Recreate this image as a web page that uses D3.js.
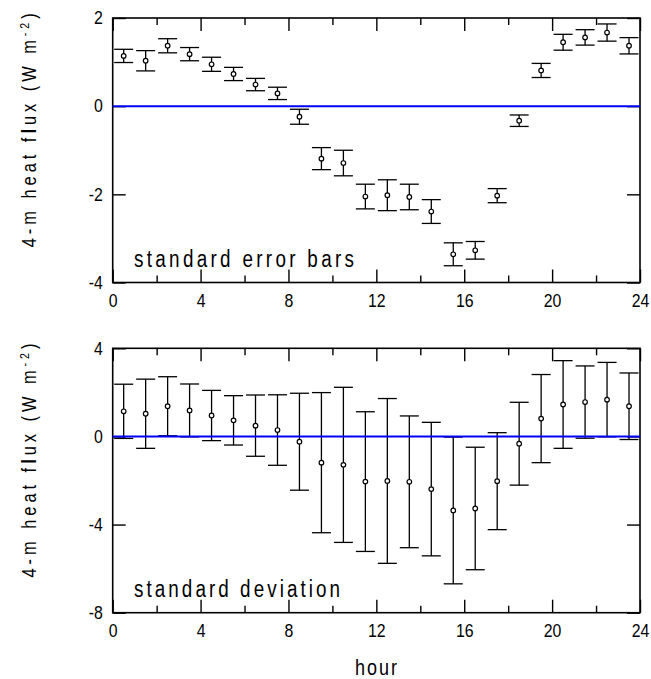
<!DOCTYPE html>
<html>
<head>
<meta charset="utf-8">
<script src="https://cdn.jsdelivr.net/npm/d3@7"></script>
<style>
  html, body { margin: 0; padding: 0; background: #fff; }
  svg text { font-family: "Liberation Sans", Arial, Helvetica, sans-serif; fill: #000; }
</style>
</head>
<body>
<svg id="chart" width="651" height="679"></svg>
<script>
// Hourly bins (centres of each hour)
const hours = [0.5, 1.5, 2.5, 3.5, 4.5, 5.5, 6.5, 7.5, 8.5, 9.5, 10.5, 11.5,
               12.5, 13.5, 14.5, 15.5, 16.5, 17.5, 18.5, 19.5, 20.5, 21.5, 22.5, 23.5];
// Mean 4-m heat flux per hour (W m-2)
const meanFlux = [1.14, 1.03, 1.37, 1.18, 0.95, 0.73, 0.49, 0.29, -0.24, -1.19, -1.29, -2.05,
                  -2.02, -2.06, -2.39, -3.36, -3.27, -2.03, -0.33, 0.81, 1.45, 1.56, 1.67, 1.37];
// Standard error of the hourly mean
const stdErr = [0.15, 0.23, 0.16, 0.15, 0.16, 0.15, 0.14, 0.14, 0.17, 0.25, 0.29, 0.28,
                0.35, 0.29, 0.27, 0.26, 0.20, 0.16, 0.13, 0.16, 0.18, 0.175, 0.195, 0.185];
// Standard deviation of the hourly values
const stdDev = [1.23, 1.57, 1.34, 1.20, 1.14, 1.12, 1.39, 1.60, 2.20, 3.18, 3.52, 3.17,
                3.74, 2.99, 3.03, 3.33, 2.78, 2.20, 1.88, 2.00, 1.99, 1.64, 1.69, 1.51];

const xMajorTicks = [0, 4, 8, 12, 16, 20, 24];
const xMinorTicks = [2, 6, 10, 14, 18, 22];
const topYTicks = [-4, -2, 0, 2];
const bottomYTicks = [-8, -4, 0, 4];

const panelLabels = ["standard error bars", "standard deviation"];
const xLabel = "hour";

const svg = d3.select("#chart");
const left = 112.7, right = 640;
const narrow = 0.82;     // horizontal squeeze for the condensed lettering
const tickNarrow = 0.88; // squeeze for tick numbers
const x = d3.scaleLinear().domain([0, 24]).range([left, right]);

const panels = [
  { y: d3.scaleLinear().domain([-4, 2]).range([282.5, 18]), ticks: topYTicks, err: stdErr, label: panelLabels[0], labelWidth: 220 },
  { y: d3.scaleLinear().domain([-8, 4]).range([612.7, 348.3]), ticks: bottomYTicks, err: stdDev, label: panelLabels[1], labelWidth: 206 }
];

const fmt = d => String(d);

function styleAxis(g) {
  g.select(".domain").remove();
  g.selectAll(".tick line").attr("stroke", "#000").attr("stroke-width", 1.4);
  g.selectAll(".tick text").style("font-size", "18px").attr("fill", "#000")
    .attr("transform", `scale(${tickNarrow},1)`);
}

// condensed text: squeeze horizontally and spread letters over a given width
function condensedText(parent, tx, ty, width, size, rotate) {
  return parent.append("text")
    .attr("transform", `translate(${tx},${ty})${rotate ? " rotate(-90)" : ""} scale(${narrow},1)`)
    .attr("textLength", width / narrow).attr("lengthAdjust", "spacing")
    .style("font-size", size + "px");
}

panels.forEach(p => {
  const [yb, yt] = p.y.range();
  const g = svg.append("g");

  // x axes along bottom and top edges (ticks point inward)
  g.append("g").attr("transform", `translate(0,${yb})`)
    .call(d3.axisBottom(x).tickValues(xMajorTicks).tickSize(-13).tickPadding(12).tickFormat(fmt))
    .call(styleAxis);
  g.append("g").attr("transform", `translate(0,${yb})`)
    .call(d3.axisBottom(x).tickValues(xMinorTicks).tickSize(-7).tickFormat(""))
    .call(styleAxis);
  g.append("g").attr("transform", `translate(0,${yt})`)
    .call(d3.axisTop(x).tickValues(xMajorTicks).tickSize(-13).tickFormat(""))
    .call(styleAxis);
  g.append("g").attr("transform", `translate(0,${yt})`)
    .call(d3.axisTop(x).tickValues(xMinorTicks).tickSize(-7).tickFormat(""))
    .call(styleAxis);

  // y axes on left and right edges
  g.append("g").attr("transform", `translate(${left},0)`)
    .call(d3.axisLeft(p.y).tickValues(p.ticks).tickSize(-13).tickPadding(10 / tickNarrow).tickFormat(fmt))
    .call(styleAxis);
  g.append("g").attr("transform", `translate(${right},0)`)
    .call(d3.axisRight(p.y).tickValues(p.ticks).tickSize(-13).tickFormat(""))
    .call(styleAxis);

  // frame
  g.append("rect")
    .attr("x", left).attr("y", yt)
    .attr("width", right - left).attr("height", yb - yt)
    .attr("fill", "none").attr("stroke", "#000").attr("stroke-width", 1.6);

  const rows = hours.map((h, i) => ({ h, m: meanFlux[i], e: p.err[i] }));
  const cap = 9.5;

  const bars = g.append("g").attr("stroke", "#000").attr("stroke-width", 1.3);
  bars.selectAll("line.v").data(rows).join("line").attr("class", "v")
    .attr("x1", d => x(d.h)).attr("x2", d => x(d.h))
    .attr("y1", d => p.y(d.m + d.e)).attr("y2", d => p.y(d.m - d.e));
  bars.selectAll("line.cu").data(rows).join("line").attr("class", "cu")
    .attr("x1", d => x(d.h) - cap).attr("x2", d => x(d.h) + cap)
    .attr("y1", d => p.y(d.m + d.e)).attr("y2", d => p.y(d.m + d.e));
  bars.selectAll("line.cl").data(rows).join("line").attr("class", "cl")
    .attr("x1", d => x(d.h) - cap).attr("x2", d => x(d.h) + cap)
    .attr("y1", d => p.y(d.m - d.e)).attr("y2", d => p.y(d.m - d.e));

  // zero line
  g.append("line")
    .attr("x1", left).attr("x2", right)
    .attr("y1", p.y(0)).attr("y2", p.y(0))
    .attr("stroke", "#0000ff").attr("stroke-width", 2);

  // hourly means
  g.append("g").selectAll("circle").data(rows).join("circle")
    .attr("cx", d => x(d.h)).attr("cy", d => p.y(d.m)).attr("r", 2.3)
    .attr("fill", "#fff").attr("stroke", "#000").attr("stroke-width", 1.2);

  // panel annotation
  condensedText(g, 134, yb - 16, p.labelWidth, 23, false).text(p.label);

  // y-axis title (centred on its own origin)
  const cy = (yb + yt) / 2 - 20;
  const t = condensedText(g, 36, cy, 234, 20, true).attr("text-anchor", "middle");
  t.append("tspan").text("4-m heat f");
  t.append("tspan").style("font-weight", "bold").text("l");
  t.append("tspan").text("ux  (W m");
  t.append("tspan").attr("dy", -7).style("font-size", "13px").text("-2");
  t.append("tspan").attr("dy", 7).text(")");
});

// x-axis title
condensedText(svg, 355, 675, 42, 22, false).text(xLabel);
</script>
</body>
</html>
